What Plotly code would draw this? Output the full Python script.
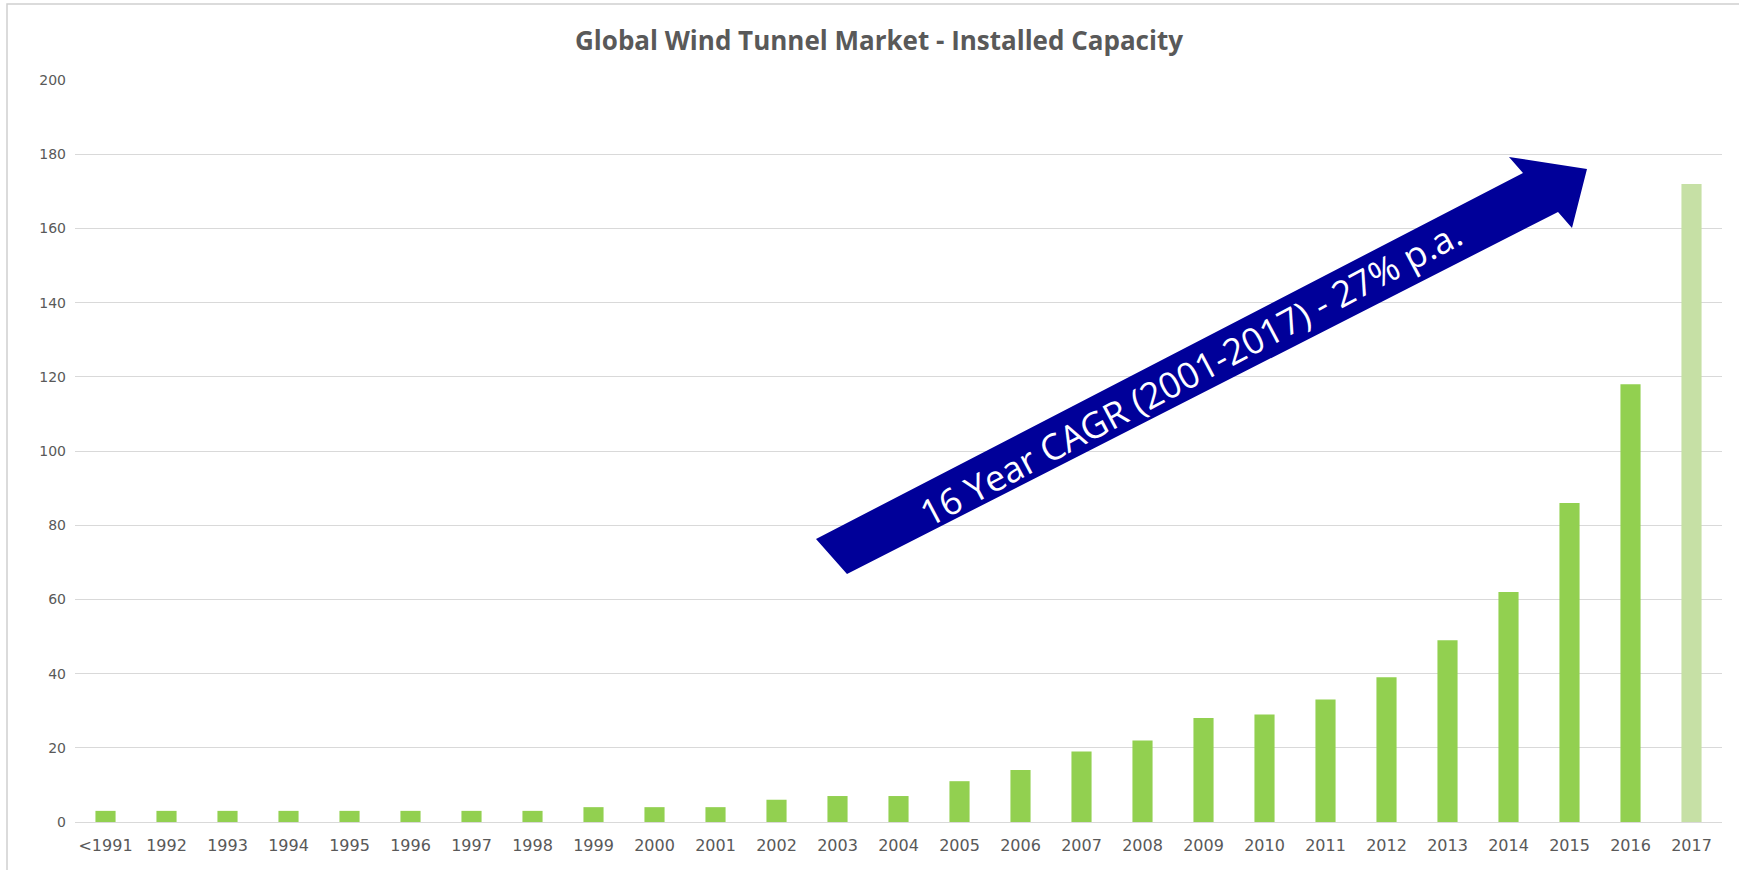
import plotly.graph_objects as go

# Installed capacity by year
years = ["<1991", "1992", "1993", "1994", "1995", "1996", "1997", "1998", "1999",
         "2000", "2001", "2002", "2003", "2004", "2005", "2006", "2007", "2008",
         "2009", "2010", "2011", "2012", "2013", "2014", "2015", "2016", "2017"]
capacity = [3, 3, 3, 3, 3, 3, 3, 3, 4,
            4, 4, 6, 7, 7, 11, 14, 19, 22,
            28, 29, 33, 39, 49, 62, 86, 118, 172]
y_ticks = [0, 20, 40, 60, 80, 100, 120, 140, 160, 180, 200]

title_text = "Global Wind Tunnel Market - Installed Capacity"
arrow_text = "16 Year CAGR (2001-2017) - 27% p.a."

# Canvas and plot-area geometry (pixels)
W, H = 1739, 870
ML, MR, MT, MB = 75, 17, 80, 48
PW, PH = W - ML - MR, H - MT - MB

BAR = "#92D050"
BAR_LIGHT = "#C6E0A5"
NAVY = "#000099"
GREY_TXT = "#595959"
GRID = "#D9D9D9"


def px_x(x):
    return (x - ML) / PW


def px_y(y):
    return (H - MB - y) / PH


bar_colors = [BAR] * (len(years) - 1) + [BAR_LIGHT]

fig = go.Figure(go.Bar(
    x=years, y=capacity,
    marker=dict(color=bar_colors, line=dict(width=0)),
    hoverinfo="x+y",
))

# Growth arrow drawn as a filled polygon over the plot area
arrow_pts = [(816, 539), (1523, 173), (1509, 157), (1587, 169),
             (1572, 228), (1558, 212), (847, 574)]
path = "M " + " L ".join(f"{px_x(x):.5f},{px_y(y):.5f}" for x, y in arrow_pts) + " Z"

shapes = [
    dict(type="path", xref="paper", yref="paper", path=path,
         fillcolor=NAVY, line=dict(width=0), layer="above"),
    # outer chart frame
    dict(type="rect", xref="paper", yref="paper",
         x0=px_x(7), x1=px_x(1760), y0=px_y(4), y1=px_y(890),
         line=dict(color="#D0D0D0", width=1.5), fillcolor="rgba(0,0,0,0)",
         layer="below"),
]

annotations = [
    dict(text=arrow_text, xref="paper", yref="paper",
         x=px_x(1190), y=px_y(373), xanchor="center", yanchor="middle",
         textangle=-28, showarrow=False,
         font=dict(family="Open Sans", size=36, color="white")),
]

fig.update_layout(
    width=W, height=H,
    margin=dict(l=ML, r=MR, t=MT, b=MB, autoexpand=False),
    paper_bgcolor="white", plot_bgcolor="white",
    bargap=0.67,
    showlegend=False,
    title=dict(text=f"<b>{title_text}</b>", xref="container", yref="container",
               x=879 / W, y=1 - 41 / H, xanchor="center", yanchor="middle",
               font=dict(family="Open Sans", size=26, color=GREY_TXT)),
    font=dict(family="DejaVu Sans", color=GREY_TXT),
    shapes=shapes,
    annotations=annotations,
    xaxis=dict(type="category", range=[-0.5, len(years) - 0.5],
               showgrid=False, showline=True, linecolor=GRID, linewidth=1,
               ticks="", ticklabelstandoff=9,
               tickfont=dict(family="DejaVu Sans", size=16, color=GREY_TXT),
               zeroline=False),
    yaxis=dict(range=[0, 200], tickvals=y_ticks, showgrid=True, gridcolor=GRID,
               gridwidth=1, zeroline=False, showline=False, ticks="",
               ticklabelstandoff=8,
               tickfont=dict(family="DejaVu Sans", size=14, color=GREY_TXT)),
)

fig.write_html("out.html")
